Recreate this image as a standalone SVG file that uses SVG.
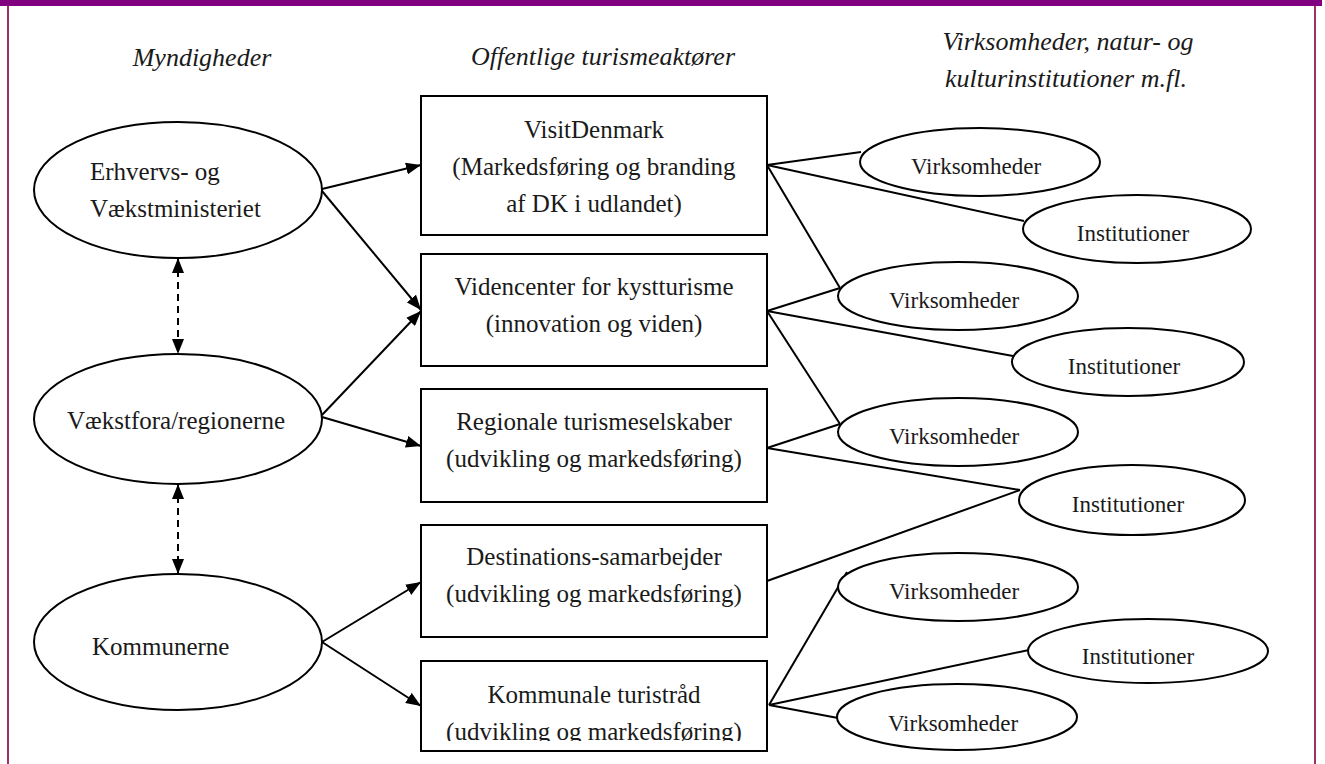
<svg xmlns="http://www.w3.org/2000/svg" width="1325" height="764" viewBox="0 0 1325 764">
<style>
  .t { font-family: "Liberation Serif", "Times New Roman", serif; fill: #1a1a1a; }
  .hd { font-size: 26px; font-style: italic; text-anchor: middle; }
  .bx { font-size: 25px; text-anchor: middle; }
  .el { font-size: 25px; }
  .sm { font-size: 23px; text-anchor: middle; }
  .node { fill: #ffffff; stroke: #000000; stroke-width: 2; }
  .con line { stroke: #000000; stroke-width: 2; }
  .arr { marker-end: url(#ah); }
  .dash { stroke-dasharray: 7 5; marker-start: url(#ah); marker-end: url(#ah); }
</style>
<defs>
  <marker id="ah" viewBox="0 0 15 12" refX="15" refY="6" markerWidth="15" markerHeight="12" markerUnits="userSpaceOnUse" orient="auto-start-reverse">
    <path d="M0,0 L15,6 L0,12 z" fill="#000000"/>
  </marker>
  <clipPath id="clipK"><rect x="421" y="661" width="346" height="80"/></clipPath>
</defs>
<rect x="0" y="0" width="1325" height="764" fill="#ffffff"/>
<g id="frame">
  <rect x="0" y="0" width="1322" height="6" fill="#800080"/>
  <line x1="8" y1="6" x2="8" y2="764" stroke="#993366" stroke-width="2"/>
  <line x1="1315" y1="6" x2="1315" y2="764" stroke="#993366" stroke-width="2"/>
</g>
<g id="headers" class="t hd">
  <text x="202" y="66">Myndigheder</text>
  <text x="603" y="65">Offentlige turismeaktører</text>
  <text x="1068" y="50">Virksomheder, natur- og</text>
  <text x="1066" y="87">kulturinstitutioner m.fl.</text>
</g>
<g id="connectors" class="con">
  <line class="arr" x1="322" y1="189" x2="421" y2="165"/>
  <line class="arr" x1="322" y1="191" x2="421" y2="310"/>
  <line class="arr" x1="322" y1="415" x2="421" y2="311"/>
  <line class="arr" x1="322" y1="417" x2="421" y2="446"/>
  <line class="arr" x1="322" y1="642" x2="421" y2="582"/>
  <line class="arr" x1="322" y1="642" x2="421" y2="706"/>
  <line class="dash" x1="178" y1="258" x2="178" y2="354"/>
  <line class="dash" x1="178" y1="484" x2="178" y2="574"/>
  <line x1="767" y1="165" x2="861" y2="152"/>
  <line x1="767" y1="165" x2="1024" y2="221"/>
  <line x1="767" y1="165" x2="840" y2="288"/>
  <line x1="767" y1="311" x2="840" y2="288"/>
  <line x1="767" y1="311" x2="1013" y2="356"/>
  <line x1="767" y1="311" x2="840" y2="424"/>
  <line x1="767" y1="448" x2="840" y2="424"/>
  <line x1="767" y1="448" x2="1020" y2="490"/>
  <line x1="767" y1="581" x2="1020" y2="490"/>
  <line x1="769" y1="705" x2="847" y2="572"/>
  <line x1="769" y1="705" x2="1029" y2="650"/>
  <line x1="769" y1="705" x2="838" y2="718"/>
</g>
<g id="n-erhverv">
  <ellipse class="node" cx="178" cy="190" rx="144" ry="68"/>
  <text class="t el" x="90" y="180">Erhvervs- og</text>
  <text class="t el" x="90" y="217">Vækstministeriet</text>
</g>
<g id="n-vaekstfora">
  <ellipse class="node" cx="178" cy="419" rx="144" ry="65"/>
  <text class="t el" x="67" y="429">Vækstfora/regionerne</text>
</g>
<g id="n-kommunerne">
  <ellipse class="node" cx="178" cy="642" rx="144" ry="68"/>
  <text class="t el" x="92" y="655">Kommunerne</text>
</g>
<g id="n-visitdenmark">
  <rect class="node" x="421" y="96" width="346" height="139"/>
  <text class="t bx" x="594" y="138">VisitDenmark</text>
  <text class="t bx" x="594" y="175">(Markedsføring og branding</text>
  <text class="t bx" x="594" y="212">af DK i udlandet)</text>
</g>
<g id="n-videncenter">
  <rect class="node" x="421" y="254" width="346" height="112"/>
  <text class="t bx" x="594" y="295">Videncenter for kystturisme</text>
  <text class="t bx" x="594" y="332">(innovation og viden)</text>
</g>
<g id="n-regionale">
  <rect class="node" x="421" y="389" width="346" height="113"/>
  <text class="t bx" x="594" y="430">Regionale turismeselskaber</text>
  <text class="t bx" x="594" y="467">(udvikling og markedsføring)</text>
</g>
<g id="n-destinations">
  <rect class="node" x="421" y="525" width="346" height="112"/>
  <text class="t bx" x="594" y="565">Destinations-samarbejder</text>
  <text class="t bx" x="594" y="602">(udvikling og markedsføring)</text>
</g>
<g id="n-kommunale">
  <rect class="node" x="421" y="661" width="346" height="90"/>
  <g clip-path="url(#clipK)">
    <text class="t bx" x="594" y="703">Kommunale turistråd</text>
    <text class="t bx" x="594" y="740">(udvikling og markedsføring)</text>
  </g>
</g>
<g id="n-v1">
  <ellipse class="node" cx="980" cy="162" rx="120" ry="34"/>
  <text class="t sm" x="976" y="174">Virksomheder</text>
</g>
<g id="n-i1">
  <ellipse class="node" cx="1137" cy="229" rx="114" ry="34"/>
  <text class="t sm" x="1133" y="241">Institutioner</text>
</g>
<g id="n-v2">
  <ellipse class="node" cx="958" cy="296" rx="120" ry="34"/>
  <text class="t sm" x="954" y="308">Virksomheder</text>
</g>
<g id="n-i2">
  <ellipse class="node" cx="1128" cy="362" rx="116" ry="34"/>
  <text class="t sm" x="1124" y="374">Institutioner</text>
</g>
<g id="n-v3">
  <ellipse class="node" cx="958" cy="432" rx="120" ry="34"/>
  <text class="t sm" x="954" y="444">Virksomheder</text>
</g>
<g id="n-i3">
  <ellipse class="node" cx="1132" cy="500" rx="113" ry="35"/>
  <text class="t sm" x="1128" y="512">Institutioner</text>
</g>
<g id="n-v4">
  <ellipse class="node" cx="958" cy="587" rx="120" ry="34"/>
  <text class="t sm" x="954" y="599">Virksomheder</text>
</g>
<g id="n-i4">
  <ellipse class="node" cx="1148" cy="651" rx="120" ry="32"/>
  <text class="t sm" x="1138" y="664">Institutioner</text>
</g>
<g id="n-v5">
  <ellipse class="node" cx="957" cy="717" rx="120" ry="33"/>
  <text class="t sm" x="953" y="731">Virksomheder</text>
</g>
</svg>
